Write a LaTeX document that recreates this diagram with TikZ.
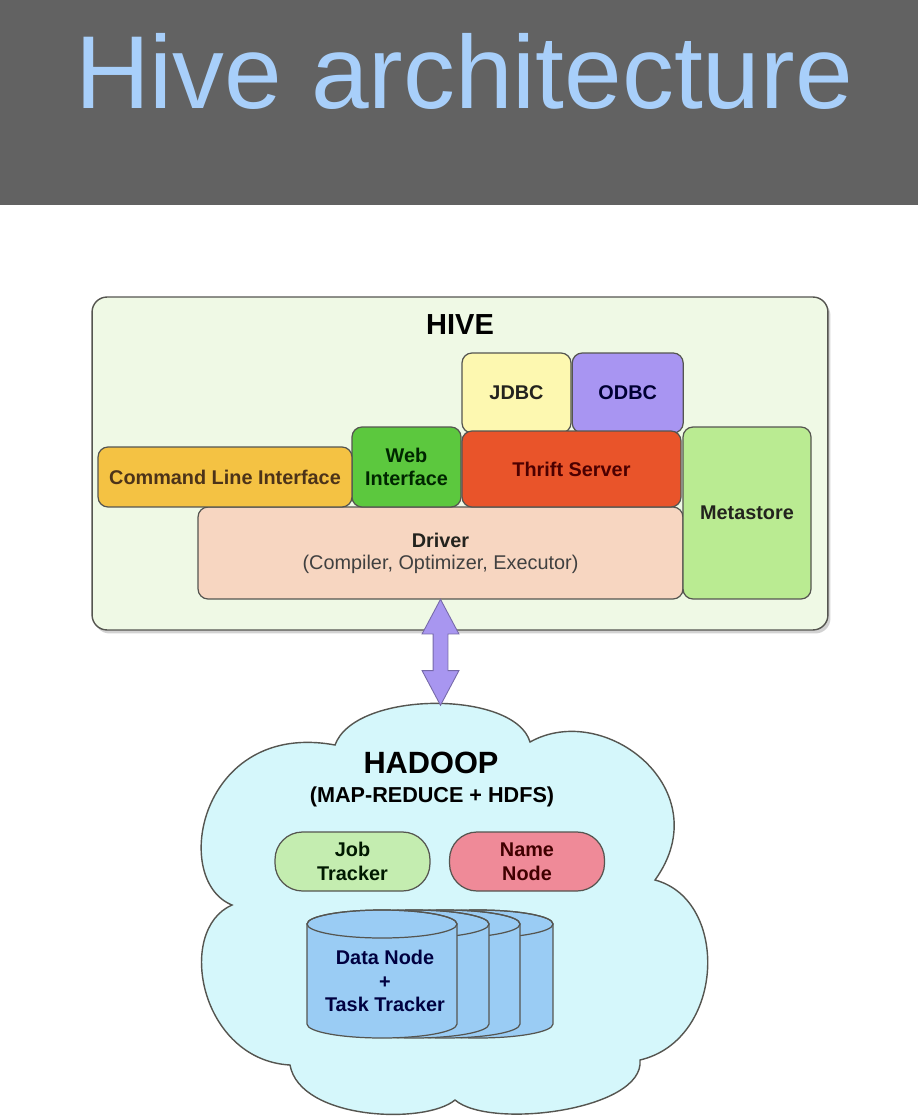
\documentclass[tikz,border=0pt]{standalone}
\usepackage{fontspec}
\setmainfont{Liberation Sans}
\usetikzlibrary{positioning,calc,shadows,shapes.arrows}
\definecolor{hvBar}{RGB}{98,98,98}
\definecolor{hvTitle}{RGB}{168,207,250}
\definecolor{hvPanel}{RGB}{239,249,229}
\definecolor{hvEdge}{RGB}{85,85,80}
\definecolor{hvJdbc}{RGB}{253,248,176}
\definecolor{hvOdbc}{RGB}{168,149,242}
\definecolor{hvWeb}{RGB}{92,200,62}
\definecolor{hvThrift}{RGB}{233,84,42}
\definecolor{hvCli}{RGB}{244,194,67}
\definecolor{hvDriver}{RGB}{247,214,193}
\definecolor{hvMeta}{RGB}{186,235,146}
\definecolor{hdCloud}{RGB}{213,247,251}
\definecolor{hdJob}{RGB}{196,237,176}
\definecolor{hdName}{RGB}{239,138,152}
\definecolor{hdDisk}{RGB}{154,204,244}
\definecolor{hvLink}{RGB}{168,150,240}
\definecolor{hvInk}{RGB}{35,35,30}
\tikzset{
    base/.style={font=\bfseries\fontsize{11.3}{13.5}\selectfont, align=center, text=hvInk},
    block/.style={base, rectangle, rounded corners=2mm, draw=hvEdge, line width=0.7pt, inner sep=0pt},
    pill/.style={base, rectangle, rounded corners=5.5mm, draw=hvEdge, line width=0.7pt,
                 inner sep=0pt, minimum width=3.1cm, minimum height=1.18cm},
    disk/.style={fill=hdDisk, draw=hvEdge, line width=0.7pt},
    link/.style={double arrow, rotate=90, fill=hvLink, draw=hvLink!70!black, line width=0.5pt,
                 inner xsep=0pt, inner ysep=0.14cm, double arrow head extend=0.22cm,
                 double arrow tip angle=56},
    heading/.style={font=\bfseries\fontsize{16.5}{18}\selectfont, text=black}
}
\begin{document}
\begin{tikzpicture}[x=0.02cm, y=-0.02cm]
  % Page and title bar
  \path[fill=white, use as bounding box] (0,0) rectangle (918,1118);
  \fill[hvBar] (0,0) rectangle (918,205);
  \node[font=\fontsize{59}{61}\selectfont, text=hvTitle, anchor=base] (title) at (464,109) {Hive architecture};

  % Hive panel
  \node[rectangle, rounded corners=3mm, draw=hvEdge, line width=0.8pt, fill=hvPanel,
        minimum width=14.72cm, minimum height=6.66cm,
        drop shadow={opacity=0.35, shadow xshift=0.05cm, shadow yshift=-0.07cm}] (hive) at (460,463.5) {};
  \node[heading] (hivelabel) at (460,325) {HIVE};

  \node[block, fill=hvDriver, minimum width=9.7cm, minimum height=1.84cm] (driver) at (440.5,553)
    {Driver\\[-1pt]{\mdseries\color{black!75}(Compiler, Optimizer, Executor)}};
  \node[block, fill=hvJdbc, minimum width=2.18cm, minimum height=1.6cm] (jdbc) at (516.5,393) {JDBC};
  \node[block, fill=hvOdbc, text=blue!20!black, minimum width=2.22cm, minimum height=1.6cm,
        right=0cm of jdbc] (odbc) {ODBC};
  \node[block, fill=hvThrift, text=red!30!black, minimum width=4.38cm, minimum height=1.52cm] (thrift) at (571.5,469) {Thrift Server};
  \node[block, fill=hvWeb, text=green!15!black, minimum width=2.18cm, minimum height=1.6cm] (web) at (406.5,467) {Web\\Interface};
  \node[block, fill=hvCli, text=brown!40!black, minimum width=5.08cm, minimum height=1.2cm] (cli) at (225,477) {Command Line Interface};
  \node[block, fill=hvMeta, minimum width=2.56cm, minimum height=3.44cm] (meta) at (747,513) {Metastore};

  % Hadoop cloud
  \filldraw[fill=hdCloud, draw=hvEdge, line width=0.8pt]
    (335,745) .. controls (355,690) and (515,690) .. (530,742)
    .. controls (605,700) and (720,790) .. (655,880)
    .. controls (730,900) and (725,1040) .. (640,1060)
    .. controls (645,1110) and (490,1130) .. (455,1100)
    .. controls (425,1125) and (300,1120) .. (290,1065)
    .. controls (200,1060) and (175,930) .. (232,905)
    .. controls (170,880) and (200,720) .. (335,745) -- cycle;
  \coordinate (cloudtop) at (440.5,705);
  \node[font=\bfseries\fontsize{17.5}{20}\selectfont] (hadoop) at (431,763) {HADOOP};
  \node[font=\bfseries\fontsize{12.3}{14}\selectfont] (hdfs) at (432,797) {(MAP-REDUCE + HDFS)};
  \node[pill, fill=hdJob, text=green!10!black] (job) at (352.5,861.5) {Job\\Tracker};
  \node[pill, fill=hdName, text=red!25!black] (name) at (527,861.5) {Name\\Node};

  % Data node stack
  \foreach \x in {478,445,414,382} {
    \filldraw[disk] (\x-75,924) -- (\x-75,1024)
      arc[start angle=180, end angle=360, x radius=1.5cm, y radius=0.28cm]
      -- (\x+75,924) arc[start angle=0, end angle=180, x radius=1.5cm, y radius=0.28cm] -- cycle;
    \draw[hvEdge, line width=0.7pt] (\x,924) ellipse[x radius=1.5cm, y radius=0.28cm];
  }
  \node[base, text=blue!25!black] (data) at (385,981) {Data Node\\+\\Task Tracker};

  % Hive <-> Hadoop
  \node[link, minimum height=2.12cm] (hl) at ($(driver.south)!0.5!(cloudtop)$) {};
\end{tikzpicture}
\end{document}
